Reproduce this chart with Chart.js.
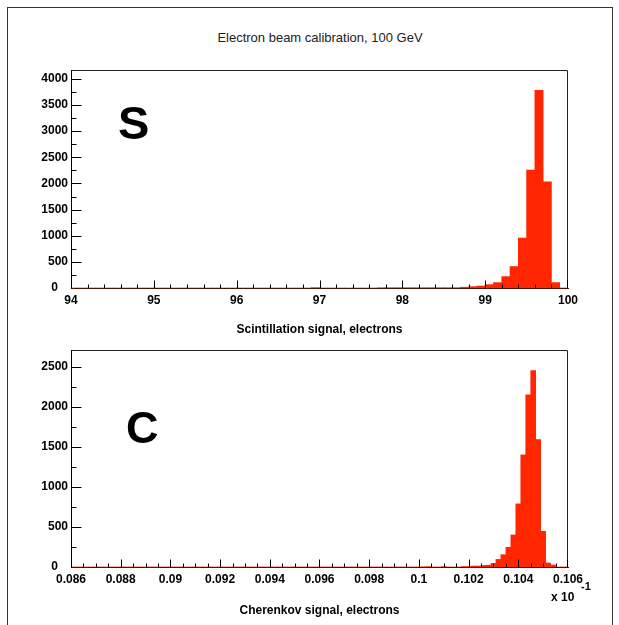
<!DOCTYPE html>
<html>
<head>
<meta charset="utf-8">
<title>Electron beam calibration, 100 GeV</title>
<script src="https://cdn.jsdelivr.net/npm/chart.js@4.4.1/dist/chart.umd.min.js"></script>
<style>
    body { margin: 0; background: #fff; }
    #wrap { position: relative; width: 619px; height: 625px; overflow: hidden; background: #fff; }
    .frame { position: absolute; left: 7px; top: 7px; width: 604px; height: 660px; border: 1px solid #333; }
    canvas { position: absolute; left: 0; }
    .txt { position: absolute; white-space: nowrap; line-height: 1; font-family: "Liberation Sans", Arial, sans-serif; color: #000; }
</style>
</head>
<body>
<div id="wrap">
    <div class="frame"></div>
    <div class="txt" style="left:0;width:640px;top:31px;text-align:center;font-size:13px;color:#222;">Electron beam calibration, 100 GeV</div>
    <canvas id="sChart" width="619" height="345" style="top:0"></canvas>
    <canvas id="cChart" width="619" height="280" style="top:345px"></canvas>
    <div class="txt" style="left:118px;top:99px;font-size:47px;font-weight:bold;">S</div>
    <div class="txt" style="left:126px;top:405px;font-size:45px;font-weight:bold;">C</div>
    <div class="txt" style="left:551px;top:591px;font-size:12px;font-weight:bold;">x 10</div>
    <div class="txt" style="left:581px;top:581px;font-size:11px;font-weight:bold;">-1</div>
</div>
<script>
// Scintillation histogram: 60 bins of 0.1 from 94 to 100
const sBinLow = 94.0;
const sBinWidth = 0.1;
const sCounts = [
    0, 0, 0, 0, 0, 0, 0, 0, 0, 0,
    0, 0, 0, 0, 0, 0, 0, 0, 0, 0,
    0, 0, 0, 0, 0, 0, 0, 0, 0, 8,
    0, 0, 0, 0, 0, 0, 0, 6, 6, 6,
    6, 6, 6, 6, 6, 6, 6, 15, 26, 38,
    64, 103, 218, 410, 955, 2256, 3782, 2032, 103, 0
];
const sXTicks = [94, 95, 96, 97, 98, 99, 100];
const sYTicks = [0, 500, 1000, 1500, 2000, 2500, 3000, 3500, 4000];

// Cherenkov histogram: bins of 0.0002 centred on 0.086 ... 0.106 (x 10^-1)
const cBinCenter0 = 0.086;
const cBinWidth = 0.0002;
const cCounts = [
    0, 0, 0, 0, 0, 0, 0, 0, 0, 0,
    0, 0, 0, 0, 0, 0, 0, 0, 0, 0,
    0, 0, 0, 0, 0, 0, 0, 0, 0, 0,
    0, 0, 0, 0, 0, 0, 0, 0, 0, 0,
    0, 0, 0, 0, 0, 0, 0, 0, 0, 0,
    0, 0, 0, 0, 0, 0, 0, 0, 0, 0,
    0, 0, 0, 0, 0, 0, 0, 0, 0, 0,
    0, 3, 5, 0, 0, 5, 0, 0, 0, 6,
    6, 12, 12, 20, 22, 45, 95, 154, 246, 400,
    788, 1400, 2150, 2454, 1592, 446, 50, 25, 0, 0,
    0
];
const cXTicks = [0.086, 0.088, 0.09, 0.092, 0.094, 0.096, 0.098, 0.1, 0.102, 0.104, 0.106];
const cYTicks = [0, 500, 1000, 1500, 2000, 2500];

const BAR_COLOR = "#ff2600";
const AXIS_COLOR = "#4a1207";
const FONT = "'Liberation Sans', Arial, sans-serif";

// Inward ROOT-style ticks and the open frame on top / right
const histFrame = {
    id: "histFrame",
    afterDatasetsDraw(chart, args, opts) {
        const { ctx, chartArea: a, scales: { x, y } } = chart;
        const left = Math.round(a.left) + 0.5;
        const right = Math.round(a.right) - 0.5;
        const top = Math.round(a.top) + 0.5;
        const bottom = Math.round(a.bottom) + 0.5;

        ctx.save();
        ctx.lineWidth = 1;

        ctx.strokeStyle = "#222";
        ctx.beginPath();
        ctx.moveTo(left, top);
        ctx.lineTo(right, top);
        ctx.lineTo(right, bottom);
        ctx.stroke();

        ctx.strokeStyle = "#000";
        ctx.beginPath();
        ctx.moveTo(left, top);
        ctx.lineTo(left, bottom);
        ctx.stroke();

        // x ticks
        ctx.beginPath();
        const nx = Math.round((x.max - x.min) / opts.xMinor);
        for (let i = 0; i <= nx; i++) {
            const px = Math.round(x.getPixelForValue(x.min + i * opts.xMinor)) + 0.5;
            const len = i % opts.xRatio === 0 ? 8 : 4;
            ctx.moveTo(Math.min(px, right), bottom);
            ctx.lineTo(Math.min(px, right), bottom - len);
        }
        // y ticks
        const ny = Math.floor((y.max - y.min) / opts.yMinor);
        for (let i = 0; i <= ny; i++) {
            const py = Math.round(y.getPixelForValue(y.min + i * opts.yMinor)) + 0.5;
            const len = i % opts.yRatio === 0 ? 10 : 5;
            ctx.moveTo(left, py);
            ctx.lineTo(left + len, py);
        }
        ctx.stroke();

        // histogram baseline over the x axis
        ctx.strokeStyle = AXIS_COLOR;
        ctx.beginPath();
        ctx.moveTo(left, bottom);
        ctx.lineTo(right, bottom);
        ctx.stroke();
        ctx.restore();
    }
};

function makeHist(canvasId, cfg) {
    const ctx = document.getElementById(canvasId);
    return new Chart(ctx, {
        type: "bar",
        data: {
            datasets: [{
                data: cfg.points,
                backgroundColor: BAR_COLOR,
                borderWidth: 0,
                barPercentage: 1.0,
                categoryPercentage: 1.0
            }]
        },
        options: {
            responsive: false,
            animation: false,
            devicePixelRatio: 1,
            layout: { padding: { left: 0, right: 51, top: cfg.padTop, bottom: 0 } },
            plugins: {
                legend: { display: false },
                tooltip: { enabled: false },
                histFrame: cfg.frame
            },
            scales: {
                x: {
                    type: "linear",
                    min: cfg.xMin,
                    max: cfg.xMax,
                    offset: false,
                    grid: { display: false, drawTicks: false, offset: false },
                    border: { display: true, color: AXIS_COLOR, width: 1 },
                    afterBuildTicks: (scale) => { scale.ticks = cfg.xTicks.map(v => ({ value: v })); },
                    afterFit: (scale) => {
                        scale.height = cfg.xAxisHeight;
                        scale.paddingLeft = 0;
                        scale.paddingRight = 0;
                    },
                    ticks: {
                        autoSkip: false,
                        maxRotation: 0,
                        padding: 5,
                        color: "#000",
                        font: { family: FONT, size: 12, weight: "bold" },
                        callback: (v) => String(Number(v.toFixed(4)))
                    },
                    title: {
                        display: true,
                        text: cfg.xTitle,
                        color: "#000",
                        font: { family: FONT, size: 12, weight: "bold" },
                        padding: { top: 0, bottom: cfg.titlePad }
                    }
                },
                y: {
                    type: "linear",
                    min: 0,
                    max: cfg.yMax,
                    grid: { display: false, drawTicks: false },
                    border: { display: true, color: "#000", width: 1 },
                    afterBuildTicks: (scale) => { scale.ticks = cfg.yTicks.map(v => ({ value: v })); },
                    afterFit: (scale) => {
                        scale.width = 71;
                        scale.paddingTop = 0;
                        scale.paddingBottom = 0;
                    },
                    ticks: {
                        padding: 3,
                        color: "#000",
                        font: { family: FONT, size: 12, weight: "bold" },
                        callback: (v) => (v === 0 ? "0   " : String(v))
                    }
                }
            }
        },
        plugins: [histFrame]
    });
}

document.addEventListener("DOMContentLoaded", function() {
    makeHist("sChart", {
        points: sCounts.map((n, i) => ({ x: sBinLow + (i + 0.5) * sBinWidth, y: n })),
        xMin: 94, xMax: 100,
        yMax: 4170,
        xTicks: sXTicks,
        yTicks: sYTicks,
        padTop: 70,
        xAxisHeight: 57,
        titlePad: 8,
        xTitle: "Scintillation signal, electrons",
        frame: { xMinor: 0.2, xRatio: 5, yMinor: 250, yRatio: 2 }
    });

    makeHist("cChart", {
        points: cCounts.map((n, i) => ({ x: cBinCenter0 + i * cBinWidth, y: n })),
        xMin: 0.086, xMax: 0.106,
        yMax: 2710,
        xTicks: cXTicks,
        yTicks: cYTicks,
        padTop: 5,
        xAxisHeight: 58,
        titlePad: 7,
        xTitle: "Cherenkov signal, electrons",
        frame: { xMinor: 0.0005, xRatio: 4, yMinor: 250, yRatio: 2 }
    });
});
</script>
</body>
</html>
